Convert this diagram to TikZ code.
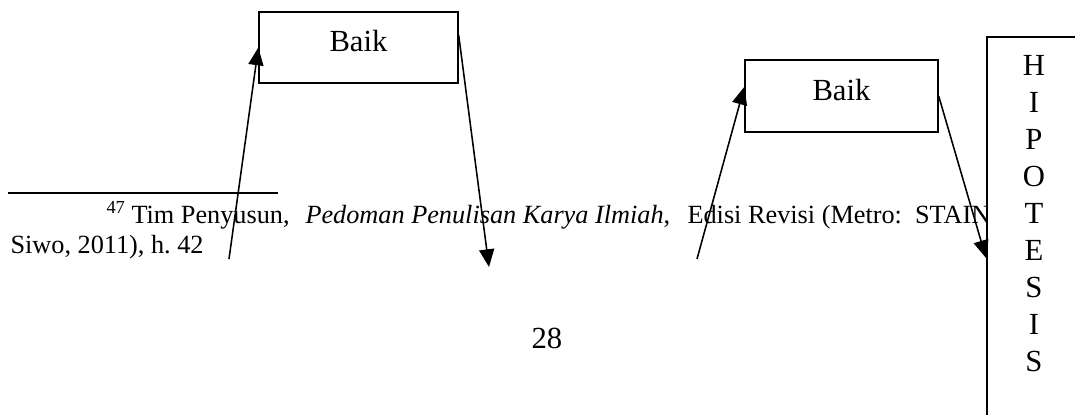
\documentclass[tikz,border=0pt]{standalone}
\usepackage{fontspec}
\setmainfont{Liberation Serif}
\usetikzlibrary{arrows.meta}
\frenchspacing
\begin{document}
\begin{tikzpicture}[x=0.3846pt,y=-0.3846pt,
  box/.style={draw,line width=0.55pt,inner sep=0pt,text depth=5pt,
    font=\fontsize{11.8pt}{14pt}\selectfont},
  txt/.style={inner sep=0pt,font=\fontsize{11.8pt}{14pt}\selectfont},
  fn/.style={inner sep=0pt,anchor=base west,font=\fontsize{10.1pt}{12pt}\selectfont},
  arr/.style={line width=0.6pt,-{Triangle[length=6.8pt,width=5.8pt]}}]
\useasboundingbox (0,0) rectangle (1075,414);
\clip (0,0) rectangle (1075,414);

% footnote separator and footnote text
\coordinate (rl) at (8,193);
\coordinate (rr) at (278,193);
\draw[line width=0.6pt] (rl) -- (rr);
\node[fn] (fnmark) at (106,223) {\textsuperscript{47}};
\node[fn] (fnA) at (131,223) {Tim Penyusun,};
\node[fn] (fnB) at (305,223) {\textit{Pedoman Penulisan Karya Ilmiah},};
\node[fn] (fnC) at (687,223) {Edisi Revisi (Metro:\ \ STAIN};
\node[fn] (fnD) at (10,253) {Siwo, 2011), h.\ 42};

% page number
\node[txt,anchor=base west] (page) at (531,348) {28};

% the two boxes
\node[box,minimum width=76.5pt,minimum height=27.3pt] (b1) at (358.5,47.5) {Baik};
\node[box,minimum width=74.2pt,minimum height=27.7pt] (b2) at (841.5,96) {Baik};

% hypothesis column
\node[draw,fill=white,line width=0.7pt,anchor=north west,inner sep=0pt,
  minimum width=60pt,minimum height=170pt] (hyp) at (986,36) {};
\foreach \c [count=\i from 0] in {H,I,P,O,T,E,S,I,S}
  \node[txt,anchor=base] (h\i) at (1034,75+37*\i) {\c};

% connectors
\coordinate (a1s) at (229,259);
\coordinate (a2e) at (489,267);
\coordinate (a3s) at (697,259);
\coordinate (a4e) at (985,258);
\draw[arr] (a1s) -- (b1.west);
\draw[arr] ([yshift=4.8pt]b1.east) -- (a2e);
\draw[arr] (a3s) -- ([yshift=3.5pt]b2.west);
\draw[arr] (b2.east) -- (a4e -| hyp.west);
\end{tikzpicture}
\end{document}
